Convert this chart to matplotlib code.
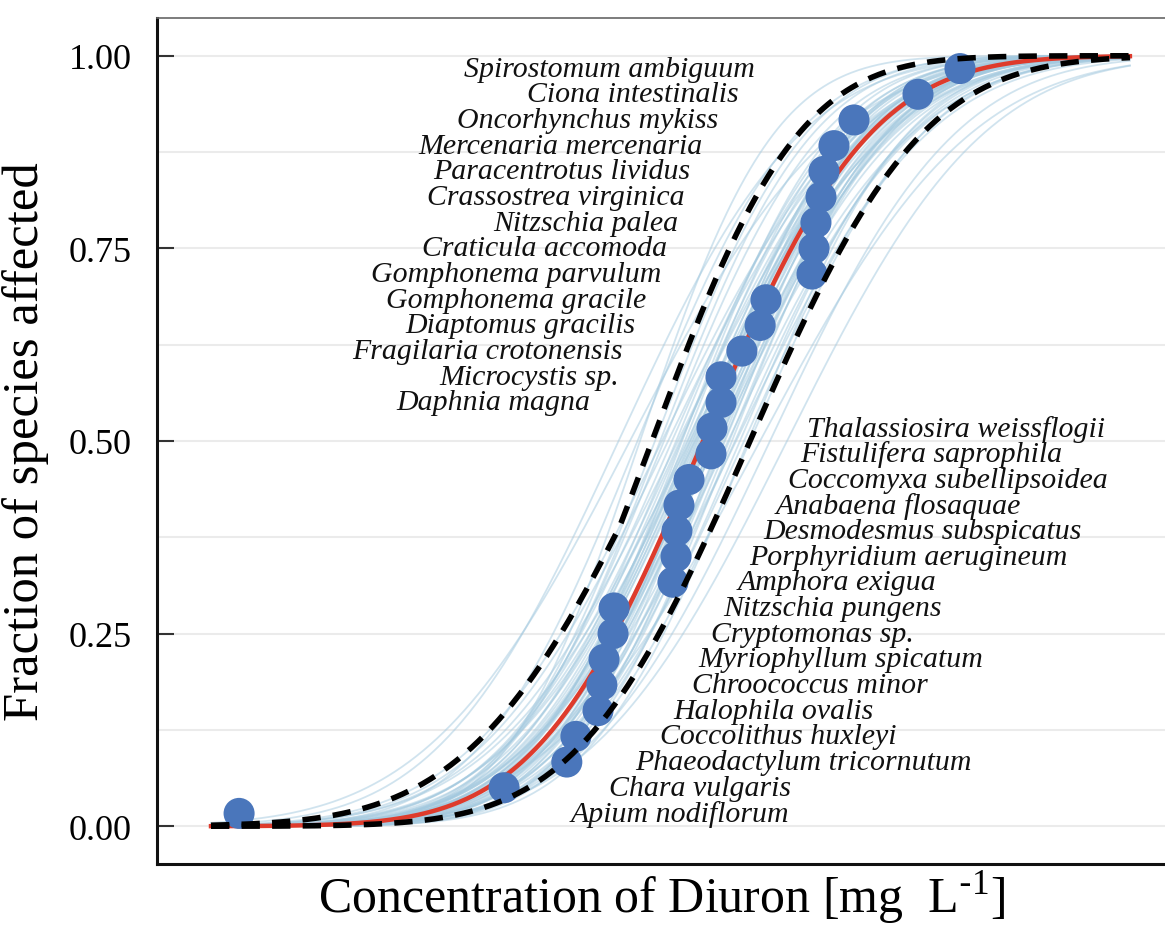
import numpy as np
import matplotlib
matplotlib.use("Agg")
import matplotlib.pyplot as plt
import matplotlib.ticker as ticker
from math import erf, sqrt

plt.rcParams['font.family'] = ['Liberation Serif', 'DejaVu Serif']

# species ordered from most to least sensitive, toxicity in mg/L
species = ["Apium nodiflorum", "Chara vulgaris", "Phaeodactylum tricornutum",
           "Coccolithus huxleyi", "Halophila ovalis", "Chroococcus minor",
           "Myriophyllum spicatum", "Cryptomonas sp.", "Nitzschia pungens",
           "Amphora exigua", "Porphyridium aerugineum", "Desmodesmus subspicatus",
           "Anabaena flosaquae", "Coccomyxa subellipsoidea", "Fistulifera saprophila",
           "Thalassiosira weissflogii", "Daphnia magna", "Microcystis sp.",
           "Fragilaria crotonensis", "Diaptomus gracilis", "Gomphonema gracile",
           "Gomphonema parvulum", "Craticula accomoda", "Nitzschia palea",
           "Crassostrea virginica", "Paracentrotus lividus", "Mercenaria mercenaria",
           "Oncorhynchus mykiss", "Ciona intestinalis", "Spirostomum ambiguum"]
conc = [6.5e-5, 0.0043, 0.0116, 0.0134, 0.0190, 0.0202, 0.0209, 0.0241, 0.0245,
        0.0622, 0.0653, 0.0662, 0.0684, 0.0802, 0.1135, 0.1153, 0.133, 0.133,
        0.185, 0.247, 0.271, 0.561, 0.579, 0.597, 0.647, 0.678, 0.794, 1.09,
        3.0, 5.83]

# log-normal fit (log10 mg/L)
fit_mean, fit_sd = -1.0, 0.90
# confidence band edges
upper_ci = [(-1.282, 1.030), (-1.350, 0.790)]   # left dashed, envelope of two fits
lower_ci = [(-0.677, 0.927)]                      # right dashed
# bootstrap fits
boot_mean = [-1.000, -1.089, -0.911, -1.158, -0.849, -1.034, -0.952, -1.213, -0.780,
             -1.055, -0.883, -1.124, -0.986, -0.828, -1.185, -0.938, -1.076, -0.746,
             -1.240, -1.021, -0.897, -1.103, -0.801, -0.979, -1.144, -0.924, -1.048,
             -0.718, -1.268, -0.856, -1.172, -0.966, -1.089, -0.773, -1.295, -0.677,
             -1.330, -1.282, -0.691, -0.423, -1.433, -0.540, -1.502, -0.608,
             -1.010, -0.960, -1.040, -0.990, -1.070, -0.930, -1.110, -0.870,
             -1.020, -0.975, -1.060, -0.905, -1.150, -0.820, -1.580, -1.450]
boot_sd = [0.900, 0.879, 0.921, 0.962, 0.859, 0.824, 0.996, 0.927, 0.948, 1.030,
           0.811, 0.838, 0.948, 1.003, 0.872, 0.852, 0.976, 0.907, 1.017, 0.797,
           1.044, 0.914, 0.831, 0.879, 0.811, 0.962, 0.934, 0.962, 0.859, 0.893,
           1.030, 0.769, 1.065, 1.030, 0.824, 0.927, 0.811, 1.030, 0.859, 1.058,
           0.721, 0.996, 1.099, 1.134,
           0.870, 0.940, 0.910, 0.860, 0.930, 0.890, 0.990, 0.880,
           0.950, 0.845, 0.905, 0.985, 0.900, 0.870, 0.980, 0.860]

# label anchors (log10 mg/L)
label_low_x = [-1.907, -1.646, -1.467, -1.295, -1.206, -1.076, -1.034, -0.945, -0.863,
               -0.760, -0.684, -0.588, -0.498, -0.416, -0.334, -0.286]
label_high_x = [-1.776, -1.577, -1.550, -1.467, -1.392, -1.289, -1.247, -1.172, -1.124,
                -1.089, -1.000, -0.897, -0.753, -0.643]


def lnorm_cdf(logx, m, s):
    z = (logx - m) / (s * sqrt(2))
    return 0.5 * (1 + np.vectorize(erf)(z))


n = len(conc)
frac = (np.arange(n) + 0.5) / n
grid = np.linspace(-4.38, 1.933, 400)
xs = 10 ** grid

fig = plt.figure(figsize=(11.65, 9.29), dpi=100)
ax = fig.add_axes([157 / 1165, 64 / 929, 1008 / 1165, 846 / 929])
ax.set_xscale('log')

for m, s in zip(boot_mean, boot_sd):
    ax.plot(xs, lnorm_cdf(grid, m, s), color='#a3c9df', lw=1.3, alpha=0.5, zorder=2)

ax.plot(xs, lnorm_cdf(grid, fit_mean, fit_sd), color='#de3b2c', lw=3.2, zorder=3)
ax.scatter(conc, frac, s=500, color='#4a76bb', edgecolors='none', zorder=4)

up = np.max([lnorm_cdf(grid, m, s) for m, s in upper_ci], axis=0)
lo = np.min([lnorm_cdf(grid, m, s) for m, s in lower_ci], axis=0)
for band in (up, lo):
    ax.plot(xs, band, color='black', lw=4.0, ls=(0, (3.3, 2.2)), zorder=5)

for i in range(n):
    if i < len(label_low_x):
        ax.text(10 ** label_low_x[i], frac[i], species[i], ha='left', va='center',
                fontsize=21.5, style='italic', color='#111111', zorder=6)
    else:
        ax.text(10 ** label_high_x[i - len(label_low_x)], frac[i], species[i],
                ha='right', va='center', fontsize=21.5, style='italic',
                color='#111111', zorder=6)

ax.set_xlim(10 ** -4.751, 10 ** 2.174)
ax.set_ylim(-0.049, 1.049)
ax.yaxis.set_major_locator(ticker.MultipleLocator(0.25))
ax.yaxis.set_minor_locator(ticker.MultipleLocator(0.125))
ax.yaxis.set_major_formatter(ticker.FormatStrFormatter('%.2f'))
ax.xaxis.set_major_locator(ticker.NullLocator())
ax.xaxis.set_minor_locator(ticker.NullLocator())
ax.grid(axis='y', which='both', color='#ebebeb', lw=1.5, zorder=0)
ax.set_axisbelow(True)
ax.tick_params(axis='y', which='major', direction='in', length=12, width=1.5,
               color='#333333', labelsize=26, pad=18)
ax.tick_params(axis='y', which='minor', length=0)

for side in ('left', 'bottom'):
    ax.spines[side].set_linewidth(2.2)
    ax.spines[side].set_color('#111111')
ax.spines['top'].set_linewidth(1.2)
ax.spines['top'].set_color('#666666')
ax.spines['right'].set_visible(False)

ax.set_ylabel('Fraction of species affected', fontsize=36.5, labelpad=14)
ax.set_xlabel(r'Concentration of Diuron [mg  L$^{\mathregular{\text{-}1}}$]',
              fontsize=36, labelpad=2)

fig.savefig('out.png', dpi=100)
